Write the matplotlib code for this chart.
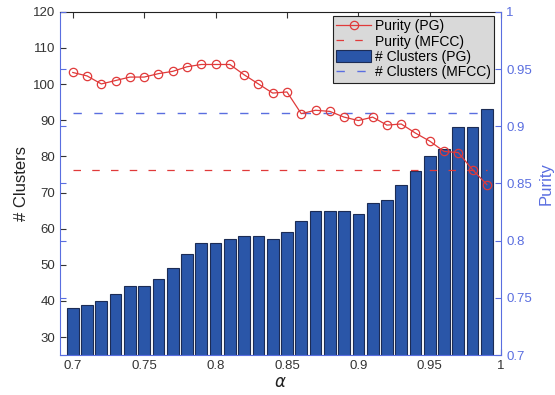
import numpy as np
import matplotlib.pyplot as plt

alpha = [0.70, 0.71, 0.72, 0.73, 0.74, 0.75, 0.76, 0.77, 0.78, 0.79,
         0.80, 0.81, 0.82, 0.83, 0.84, 0.85, 0.86, 0.87, 0.88, 0.89,
         0.90, 0.91, 0.92, 0.93, 0.94, 0.95, 0.96, 0.97, 0.98, 0.99]
clusters_pg = [38, 39, 40, 42, 44, 44, 46, 49, 53, 56,
               56, 57, 58, 58, 57, 59, 62, 65, 65, 65,
               64, 67, 68, 72, 76, 80, 82, 88, 88, 93]
purity_pg = [0.947, 0.944, 0.937, 0.940, 0.943, 0.943, 0.946, 0.948, 0.952, 0.954,
             0.954, 0.954, 0.945, 0.937, 0.929, 0.930, 0.911, 0.914, 0.913, 0.908,
             0.905, 0.908, 0.901, 0.902, 0.894, 0.887, 0.878, 0.877, 0.862, 0.849]
purity_mfcc = 0.862
clusters_mfcc = 92

xticks = [0.7, 0.75, 0.8, 0.85, 0.9, 0.95, 1]
xticklabels = ['0.7', '0.75', '0.8', '0.85', '0.9', '0.95', '1']
left_ticks = [30, 40, 50, 60, 70, 80, 90, 100, 110, 120]
right_ticks = [0.7, 0.75, 0.8, 0.85, 0.9, 0.95, 1]
right_labels = ['0.7', '0.75', '0.8', '0.85', '0.9', '0.95', '1']

plt.rcParams['font.family'] = ['Liberation Sans', 'DejaVu Sans']

blue_axis = '#5a6ee0'
red = '#e03a3a'
bar_color = '#2a56a8'

fig = plt.figure(figsize=(5.55, 3.95), dpi=100)
ax = fig.add_axes([0.108, 0.101, 0.795, 0.869])
ax2 = ax.twinx()

bars = ax.bar(alpha, clusters_pg, width=0.0082, color=bar_color,
              edgecolor='#1c2c55', linewidth=0.8, label='# Clusters (PG)', zorder=2)
l_cm, = ax.plot([alpha[0], alpha[-1]], [clusters_mfcc, clusters_mfcc], '--',
                color=blue_axis, lw=1, dashes=(6, 9), label='# Clusters (MFCC)', zorder=3)

ax.set_xlim(0.691, 1.0)
ax.set_ylim(25, 120)
ax.set_xticks(xticks)
ax.set_xticklabels(xticklabels)
ax.set_yticks(left_ticks)
ax.tick_params(axis='both', direction='in', length=4, labelsize=9.5, colors='#333333',
               top=True, bottom=True)
for s in ['left', 'bottom']:
    ax.spines[s].set_color(blue_axis)
ax.spines['top'].set_color('#222222')
ax.spines['right'].set_visible(False)
ax.set_ylabel('# Clusters', fontsize=12, color='#222222', labelpad=3)
ax.set_xlabel(r'$\alpha$', fontsize=12, color='#222222', labelpad=2)

l_pg, = ax2.plot(alpha, purity_pg, '-o', color=red, lw=0.9, ms=6,
                 mfc='none', mec=red, mew=0.9, label='Purity (PG)', zorder=4)
l_pm, = ax2.plot([alpha[0], alpha[-1]], [purity_mfcc, purity_mfcc], '--',
                 color=red, lw=0.9, dashes=(6, 9), label='Purity (MFCC)', zorder=3)
ax2.set_ylim(0.7, 1.0)
ax2.set_yticks(right_ticks)
ax2.set_yticklabels(right_labels)
ax2.tick_params(axis='y', direction='in', length=4, labelsize=9.5, colors=blue_axis,
                left=True, right=True)
ax2.spines['right'].set_color(blue_axis)
ax2.spines['left'].set_visible(False)
ax2.spines['top'].set_visible(False)
ax2.spines['bottom'].set_visible(False)
ax2.set_ylabel('Purity', fontsize=12, color=blue_axis, labelpad=5)

leg = ax2.legend([l_pg, l_pm, bars, l_cm],
                 ['Purity (PG)', 'Purity (MFCC)', '# Clusters (PG)', '# Clusters (MFCC)'],
                 loc='upper right', bbox_to_anchor=(0.99, 0.997), fontsize=10,
                 fancybox=False, framealpha=1, handlelength=2.5, handleheight=0.9,
                 borderpad=0.25, labelspacing=0.1, handletextpad=0.25,
                 borderaxespad=0.2)
leg.get_frame().set_facecolor('#d9d9d9')
leg.get_frame().set_edgecolor('#222222')
leg.get_frame().set_linewidth(0.8)

fig.savefig('out.png', dpi=100)
